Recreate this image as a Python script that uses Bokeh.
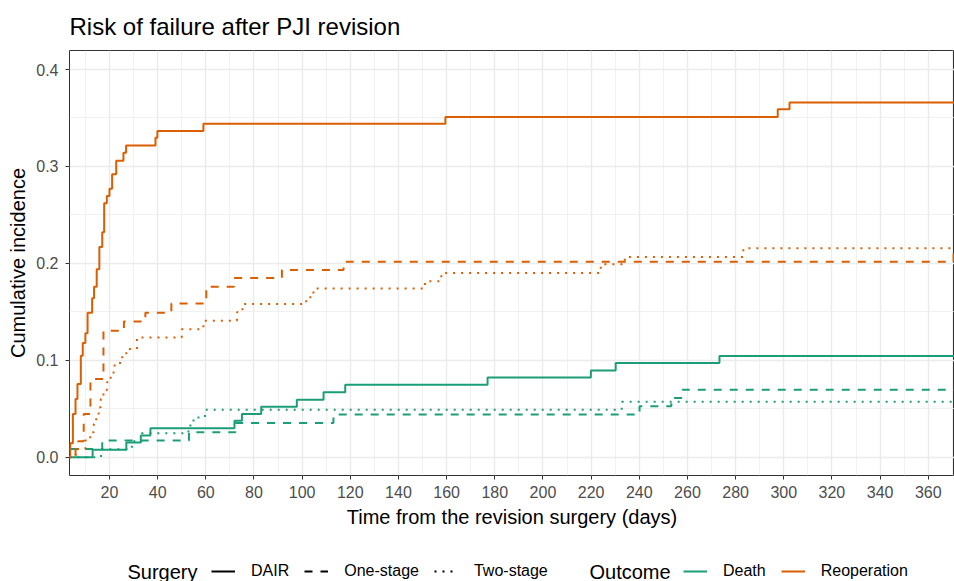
from bokeh.plotting import figure
from bokeh.models import Range1d, FixedTicker, NumeralTickFormatter, Legend, LegendItem, Label
from bokeh.layouts import column
from bokeh.embed import file_html
from bokeh.resources import INLINE

FONT = "Liberation Sans"
GREEN = "#1B9E77"
ORANGE = "#D95F02"

# ---- data (days, cumulative incidence) ----
dair_reop_t = [0, 3.7, 4.8, 5.9, 6.7, 8.1, 8.9, 10.0, 10.9, 12.8, 13.6, 14.7, 15.8, 17.0, 17.8,
               18.9, 20.0, 21.1, 22.8, 25.8, 26.9, 39.1, 39.9, 59.0, 159.5, 297.5, 302.4, 380]
dair_reop_y = [0, 0.0144, 0.0447, 0.060, 0.0756, 0.1047, 0.118, 0.128, 0.149, 0.164, 0.176, 0.194,
               0.217, 0.232, 0.262, 0.2695, 0.277, 0.292, 0.306, 0.314, 0.3217, 0.3296, 0.3365,
               0.344, 0.351, 0.359, 0.366, 0.366]

one_reop_t = [0, 5.9, 7.0, 9.3, 12.1, 17.5, 26.0, 34.9, 45.7, 60.2, 71.7, 91.6, 117.2, 370.5, 380]
one_reop_y = [0, 0.0082, 0.0165, 0.0447, 0.0807, 0.1305, 0.140, 0.149, 0.1586, 0.176, 0.1848,
              0.1933, 0.2017, 0.2105, 0.2105]

two_reop_t = [0, 6.0, 10.0, 12.0, 13.5, 14.5, 15.5, 16.4, 17.5, 18.9, 20.5, 21.7, 24.4, 27.0, 31.4,
              50.0, 59.0, 72.9, 75.2, 101.7, 104.7, 151.0, 157.8, 224.0, 234.0, 283.2, 380]
two_reop_y = [0, 0.0086, 0.0172, 0.0258, 0.0344, 0.0430, 0.0516, 0.0602, 0.0688, 0.0774, 0.0860,
              0.0946, 0.1032, 0.1118, 0.1236, 0.132, 0.1408, 0.1496, 0.158, 0.165, 0.174, 0.1815,
              0.190, 0.199, 0.2067, 0.2155, 0.2155]

dair_death_t = [0, 13.0, 27.0, 33.0, 37.0, 71.9, 75.0, 83.0, 97.8, 108.9, 117.9, 177.0, 219.9,
                230.2, 273.3, 380]
dair_death_y = [0, 0.0077, 0.0152, 0.0225, 0.0300, 0.0378, 0.0447, 0.052, 0.0594, 0.067, 0.0749,
                0.0824, 0.0896, 0.0972, 0.1044, 0.1044]

one_death_t = [0, 3.5, 17.0, 53.0, 72.3, 113.0, 240.1, 253.3, 258.0, 380]
one_death_y = [0, 0.0086, 0.0172, 0.0258, 0.0354, 0.044, 0.0526, 0.0611, 0.0697, 0.0697]

two_death_t = [0, 16.5, 29.3, 33.4, 52.8, 54.9, 59.7, 232.7, 380]
two_death_y = [0, 0.0082, 0.0165, 0.0247, 0.0329, 0.0411, 0.0491, 0.0574, 0.0574]

x_ticks = list(range(20, 361, 20))
x_minor = list(range(10, 371, 20))
y_ticks = [0.0, 0.1, 0.2, 0.3, 0.4]
y_minor = [0.05, 0.15, 0.25, 0.35]

surgery_labels = ["DAIR", "One-stage", "Two-stage"]
outcome_labels = ["Death", "Reoperation"]
outcome_colors = [GREEN, ORANGE]

DASH = {"DAIR": "solid", "One-stage": "8 8", "Two-stage": "2 6"}
LW = 2

p = figure(width=954, height=545, output_backend="svg", toolbar_location=None,
           x_range=Range1d(3.4, 370.9), y_range=Range1d(-0.0188, 0.4196),
           min_border_left=69, min_border_right=0, min_border_top=49, min_border_bottom=70,
           title="Risk of failure after PJI revision")

p.title.text_font = FONT
p.title.text_font_size = "24px"
p.title.text_font_style = "normal"
p.title.text_color = "black"
p.title.standoff = 21

series = [
    (dair_death_t, dair_death_y, GREEN, "DAIR"),
    (one_death_t, one_death_y, GREEN, "One-stage"),
    (two_death_t, two_death_y, GREEN, "Two-stage"),
    (dair_reop_t, dair_reop_y, ORANGE, "DAIR"),
    (one_reop_t, one_reop_y, ORANGE, "One-stage"),
    (two_reop_t, two_reop_y, ORANGE, "Two-stage"),
]
for t, y, c, s in series:
    p.step(t, y, mode="after", line_color=c, line_width=LW, line_dash=DASH[s])

# axes / grid
for ax in (p.xaxis[0], p.yaxis[0]):
    ax.axis_line_color = None
    ax.major_tick_line_color = "#333333"
    ax.major_tick_out = 4
    ax.major_tick_in = 0
    ax.minor_tick_line_color = None
    ax.major_label_text_font = FONT
    ax.major_label_text_font_size = "16px"
    ax.major_label_text_color = "#4D4D4D"
    ax.axis_label_text_font = FONT
    ax.axis_label_text_font_size = "20px"
    ax.axis_label_text_font_style = "normal"
    ax.axis_label_text_color = "black"

xt = FixedTicker(ticks=x_ticks, minor_ticks=x_minor)
yt = FixedTicker(ticks=y_ticks, minor_ticks=y_minor)
p.xaxis.ticker = xt
p.yaxis.ticker = yt
p.xgrid.ticker = xt
p.ygrid.ticker = yt
p.yaxis.formatter = NumeralTickFormatter(format="0.0")
p.xaxis.axis_label = "Time from the revision surgery (days)"
p.yaxis.axis_label = "Cumulative incidence"
p.xaxis.major_label_standoff = 6
p.yaxis.major_label_standoff = 7
p.xaxis.axis_label_standoff = 5
p.yaxis.axis_label_standoff = 4

for g in (p.xgrid[0], p.ygrid[0]):
    g.grid_line_color = "#EBEBEB"
    g.grid_line_width = 1.4
    g.minor_grid_line_color = "#EBEBEB"
    g.minor_grid_line_width = 0.7

p.outline_line_color = "#333333"
p.outline_line_width = 1
p.background_fill_color = "white"
p.border_fill_color = "white"

# ---- legend strip below the plot (its frame aligns with the main frame) ----
lf = figure(width=954, height=36, output_backend="svg", toolbar_location=None,
            x_range=Range1d(1000, 1001), y_range=Range1d(1000, 1001),
            x_axis_type=None, y_axis_type=None,
            min_border_left=0, min_border_right=0, min_border_top=0, min_border_bottom=0)
lf.grid.visible = False
lf.outline_line_color = None
lf.background_fill_color = "white"
lf.border_fill_color = "white"

surg_r = [lf.step(dair_death_t, dair_death_y, line_color="black", line_width=LW,
                  line_dash=DASH[s], visible=False) for s in surgery_labels]
out_r = [lf.step(dair_death_t, dair_death_y, line_color=c, line_width=LW, visible=False)
         for c in outcome_colors]

def style_leg(leg):
    leg.orientation = "horizontal"
    leg.border_line_alpha = 0
    leg.background_fill_alpha = 0
    leg.inactive_fill_alpha = 0
    leg.padding = 0
    leg.margin = 0
    leg.spacing = 15
    leg.label_standoff = 16
    leg.glyph_width = 24
    leg.glyph_height = 18
    leg.label_height = 18
    leg.label_text_font = FONT
    leg.label_text_font_size = "16px"
    leg.label_text_color = "black"
    leg.label_text_baseline = "middle"

FRAME_LEFT = 69
leg1 = Legend(items=[LegendItem(label=s, renderers=[r]) for s, r in zip(surgery_labels, surg_r)],
              location=(211 - FRAME_LEFT, 1))
leg2 = Legend(items=[LegendItem(label=o, renderers=[r]) for o, r in zip(outcome_labels, out_r)],
              location=(683 - FRAME_LEFT, 1))
style_leg(leg1)
style_leg(leg2)
lf.add_layout(leg1)
lf.add_layout(leg2)

lab1 = Label(x=127 - FRAME_LEFT, y=10, x_units="screen", y_units="screen", text="Surgery",
             text_font=FONT, text_font_size="20px", text_baseline="middle", text_color="black")
lab2 = Label(x=589 - FRAME_LEFT, y=10, x_units="screen", y_units="screen", text="Outcome",
             text_font=FONT, text_font_size="20px", text_baseline="middle", text_color="black")
lf.add_layout(lab1)
lf.add_layout(lab2)

open("out.html", "w").write(file_html(column(p, lf, spacing=0), INLINE))
